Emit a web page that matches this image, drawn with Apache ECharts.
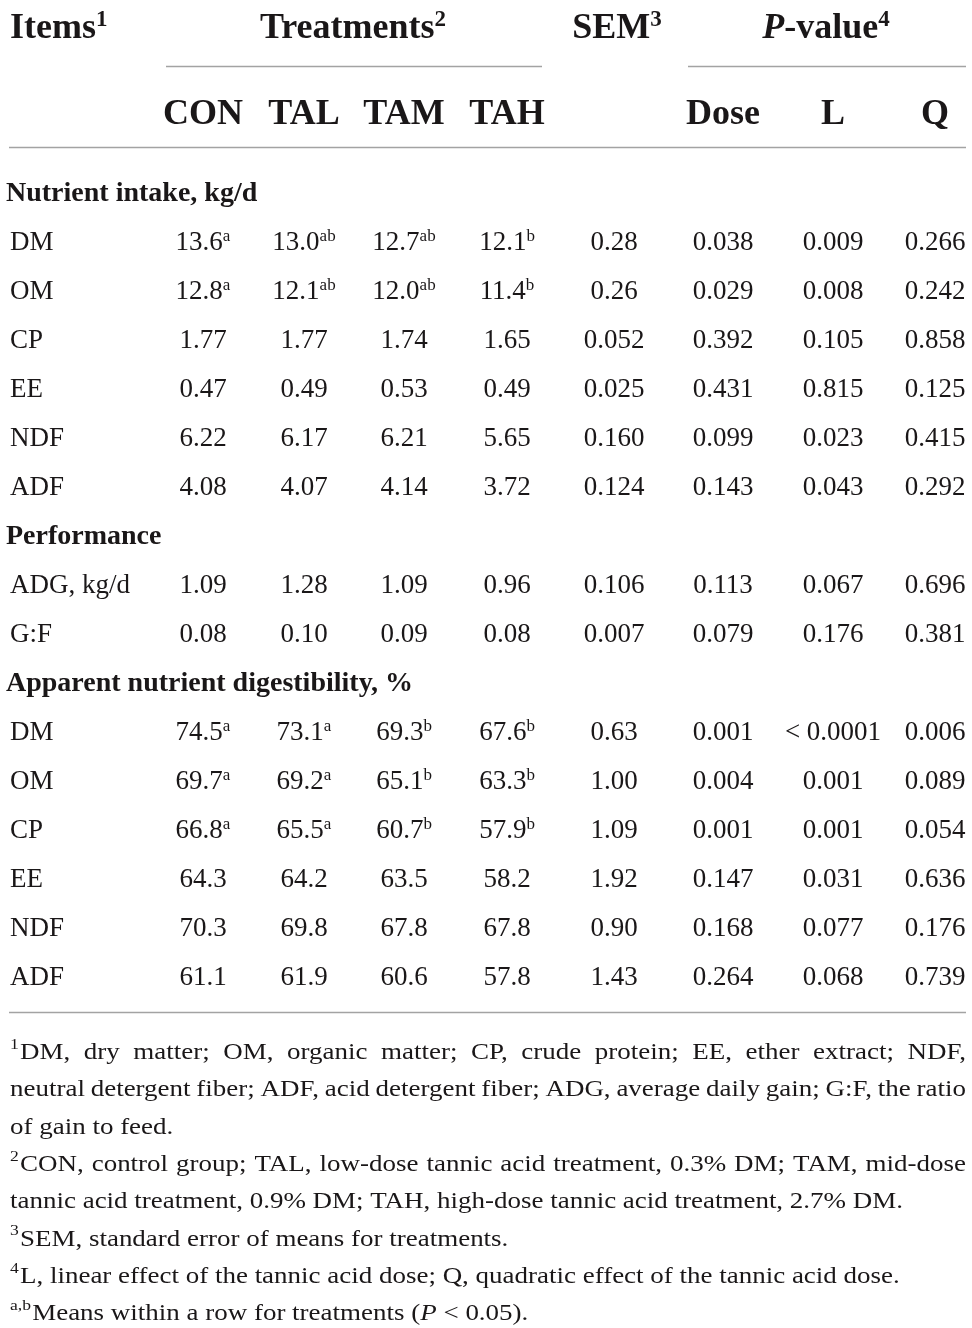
<!DOCTYPE html>
<html><head><meta charset="utf-8">
<script src="https://cdn.jsdelivr.net/npm/echarts@6/dist/echarts.min.js"></script>
<style>html,body{margin:0;padding:0;background:#fff}#c{width:972px;height:1328px}</style>
</head><body><div id="c"></div>
<script>
// ---------------- data ----------------
const columns = ['CON', 'TAL', 'TAM', 'TAH', 'SEM', 'Dose', 'L', 'Q'];
const sections = ['Nutrient intake, kg/d', 'Performance', 'Apparent nutrient digestibility, %'];
const intakeItems = ['DM', 'OM', 'CP', 'EE', 'NDF', 'ADF'];
const intakeValues = [
  ['13.6^a', '13.0^ab', '12.7^ab', '12.1^b', '0.28', '0.038', '0.009', '0.266'],
  ['12.8^a', '12.1^ab', '12.0^ab', '11.4^b', '0.26', '0.029', '0.008', '0.242'],
  ['1.77', '1.77', '1.74', '1.65', '0.052', '0.392', '0.105', '0.858'],
  ['0.47', '0.49', '0.53', '0.49', '0.025', '0.431', '0.815', '0.125'],
  ['6.22', '6.17', '6.21', '5.65', '0.160', '0.099', '0.023', '0.415'],
  ['4.08', '4.07', '4.14', '3.72', '0.124', '0.143', '0.043', '0.292']
];
const performanceItems = ['ADG, kg/d', 'G:F'];
const performanceValues = [
  ['1.09', '1.28', '1.09', '0.96', '0.106', '0.113', '0.067', '0.696'],
  ['0.08', '0.10', '0.09', '0.08', '0.007', '0.079', '0.176', '0.381']
];
const digestItems = ['DM', 'OM', 'CP', 'EE', 'NDF', 'ADF'];
const digestValues = [
  ['74.5^a', '73.1^a', '69.3^b', '67.6^b', '0.63', '0.001', '< 0.0001', '0.006'],
  ['69.7^a', '69.2^a', '65.1^b', '63.3^b', '1.00', '0.004', '0.001', '0.089'],
  ['66.8^a', '65.5^a', '60.7^b', '57.9^b', '1.09', '0.001', '0.001', '0.054'],
  ['64.3', '64.2', '63.5', '58.2', '1.92', '0.147', '0.031', '0.636'],
  ['70.3', '69.8', '67.8', '67.8', '0.90', '0.168', '0.077', '0.176'],
  ['61.1', '61.9', '60.6', '57.8', '1.43', '0.264', '0.068', '0.739']
];
const topHeaders = ['Items^1', 'Treatments^2', 'SEM^3', '*P*-value^4'];
const footnoteLines = [
  { sup: '1', text: 'DM, dry matter; OM, organic matter; CP, crude protein; EE, ether extract; NDF,', justify: true },
  { sup: '', text: 'neutral detergent fiber; ADF, acid detergent fiber; ADG, average daily gain; G:F, the ratio', justify: true },
  { sup: '', text: 'of gain to feed.', justify: false },
  { sup: '2', text: 'CON, control group; TAL, low-dose tannic acid treatment, 0.3% DM; TAM, mid-dose', justify: true },
  { sup: '', text: 'tannic acid treatment, 0.9% DM; TAH, high-dose tannic acid treatment, 2.7% DM.', justify: false },
  { sup: '3', text: 'SEM, standard error of means for treatments.', justify: false },
  { sup: '4', text: 'L, linear effect of the tannic acid dose; Q, quadratic effect of the tannic acid dose.', justify: false },
  { sup: 'a,b', text: 'Means within a row for treatments (*P* < 0.05).', justify: false }
];

// ---------------- layout ----------------
const W = 972, H = 1328;
const FONT = '"Liberation Serif", "Times New Roman", serif';
const INK = '#1a1718';
const colX = [203, 304, 404, 507, 614, 723, 833, 935];
const topHeaderX = [10, 353, 617, 826];
const topHeaderY = 29, subHeaderY = 115;
const itemX = 10, sectionX = 6;
const bodyTop = 194, rowStep = 49;
const footTop = 1053, footStep = 37.3, footLeft = 10, footRight = 966;
const footRefLine = 4, footRefWidth = 893; // line used to calibrate footnote width
const rules = [
  [[166, 66], [542, 66]],
  [[688, 66], [966, 66]],
  [[9, 147], [966, 147]],
  [[9, 1012], [966, 1012]]
];

// ---------------- build ----------------
function richStr(s, base) {
  const parts = s.split('^');
  let out = '';
  parts[0].split('*').forEach((t, i) => { if (t) out += '{' + (i % 2 ? base + 'i' : base) + '|' + t + '}'; });
  if (parts[1]) out += '{' + base + 's|' + parts[1] + '}';
  return out;
}

const body = [];
[[sections[0], intakeItems, intakeValues], [sections[1], performanceItems, performanceValues], [sections[2], digestItems, digestValues]]
  .forEach(([sec, items, vals]) => {
    body.push({ kind: 'section', text: sec });
    items.forEach((it, k) => body.push({ kind: 'item', text: it, values: vals[k] }));
  });

const cellData = [], itemData = [], sectionData = [];
body.forEach((r, i) => {
  const y = bodyTop + i * rowStep;
  if (r.kind === 'section') sectionData.push({ value: [sectionX, y], t: r.text });
  else {
    itemData.push({ value: [itemX, y], t: r.text });
    r.values.forEach((v, j) => cellData.push({ value: [colX[j], y], t: v }));
  }
});
const headerCenterData = topHeaders.slice(1).map((h, k) => ({ value: [topHeaderX[k + 1], topHeaderY], t: h }));
const headerLeftData = [{ value: [topHeaderX[0], topHeaderY], t: topHeaders[0] }];
const subHeaderData = columns.map((c, j) => c === 'SEM' ? null : ({ value: [colX[j], subHeaderY], t: c })).filter(Boolean);

const richBody = {
  d: { fontFamily: FONT, fontSize: 27, color: INK, lineHeight: 30 },
  ds: { fontFamily: FONT, fontSize: 17, color: INK, verticalAlign: 'top', lineHeight: 30 }
};
const richBold = {
  b: { fontFamily: FONT, fontSize: 28, fontWeight: 'bold', color: INK, lineHeight: 30 }
};
const richHead = {
  h: { fontFamily: FONT, fontSize: 36, fontWeight: 'bold', color: INK, lineHeight: 40 },
  hi: { fontFamily: FONT, fontSize: 36, fontWeight: 'bold', fontStyle: 'italic', color: INK, lineHeight: 40 },
  hs: { fontFamily: FONT, fontSize: 23, fontWeight: 'bold', color: INK, verticalAlign: 'top', lineHeight: 40 }
};

function textSeries(name, data, base, rich, align) {
  return {
    name, type: 'scatter', data, symbolSize: 0, silent: true, z: 5,
    itemStyle: { opacity: 1 },
    label: {
      show: true, position: 'inside', align, verticalAlign: 'middle', opacity: 1, color: INK,
      formatter: p => richStr(p.data.t, base), rich
    },
    emphasis: { disabled: true }
  };
}

// footnotes (justified text measured with canvas)
const mctx = document.createElement('canvas').getContext('2d');
const FN = 23, FNS = 15;
function mw(t, size, style) { mctx.font = (style || '') + ' ' + size + 'px ' + FONT; return mctx.measureText(t).width; }
const FSX = footRefWidth / mw(footnoteLines[footRefLine].text, FN);
const footRich = {
  n: { fontFamily: FONT, fontSize: FN, fill: INK },
  ni: { fontFamily: FONT, fontSize: FN, fontStyle: 'italic', fill: INK }
};
const graphics = [];
footnoteLines.forEach((ln, i) => {
  const y = footTop + i * footStep;
  const supW = ln.sup ? (mw(ln.sup, FNS) + 1) * FSX : 0;
  if (ln.sup) graphics.push({ type: 'text', x: footLeft, y: y - 8, scaleX: FSX, silent: true,
    style: { text: ln.sup, fontFamily: FONT, fontSize: FNS, fill: INK, verticalAlign: 'middle' } });
  const startX = footLeft + supW;
  if (ln.justify) {
    const words = ln.text.split(' ');
    const widths = words.map(w => mw(w, FN) * FSX);
    const total = widths.reduce((a, b) => a + b, 0);
    const gap = (footRight - startX - total) / (words.length - 1);
    let x = startX;
    words.forEach((w, k) => {
      graphics.push({ type: 'text', x, y, scaleX: FSX, silent: true,
        style: { text: w, fontFamily: FONT, fontSize: FN, fill: INK, verticalAlign: 'middle' } });
      x += widths[k] + gap;
    });
  } else {
    let s = '';
    ln.text.split('*').forEach((t, k) => { if (t) s += '{' + (k % 2 ? 'ni' : 'n') + '|' + t + '}'; });
    graphics.push({ type: 'text', x: startX, y, scaleX: FSX, silent: true,
      style: { text: s, rich: footRich, fontFamily: FONT, fontSize: FN, fill: INK, verticalAlign: 'middle' } });
  }
});

const chart = echarts.init(document.getElementById('c'));
chart.setOption({
  backgroundColor: '#fff',
  animation: false,
  grid: { left: 0, right: 0, top: 0, bottom: 0 },
  xAxis: { type: 'value', min: 0, max: W, show: false },
  yAxis: { type: 'value', min: 0, max: H, inverse: true, show: false },
  series: [
    {
      name: 'rules', type: 'lines', coordinateSystem: 'cartesian2d', silent: true,
      lineStyle: { color: '#a3a3a3', width: 1.3, opacity: 1 },
      data: rules.map(c => ({ coords: c }))
    },
    textSeries('headLeft', headerLeftData, 'h', richHead, 'left'),
    textSeries('headCenter', headerCenterData, 'h', richHead, 'center'),
    textSeries('subHead', subHeaderData, 'h', richHead, 'center'),
    textSeries('sections', sectionData, 'b', richBold, 'left'),
    textSeries('items', itemData, 'd', richBody, 'left'),
    textSeries('cells', cellData, 'd', richBody, 'center')
  ],
  graphic: graphics
});
</script>
</body></html>
